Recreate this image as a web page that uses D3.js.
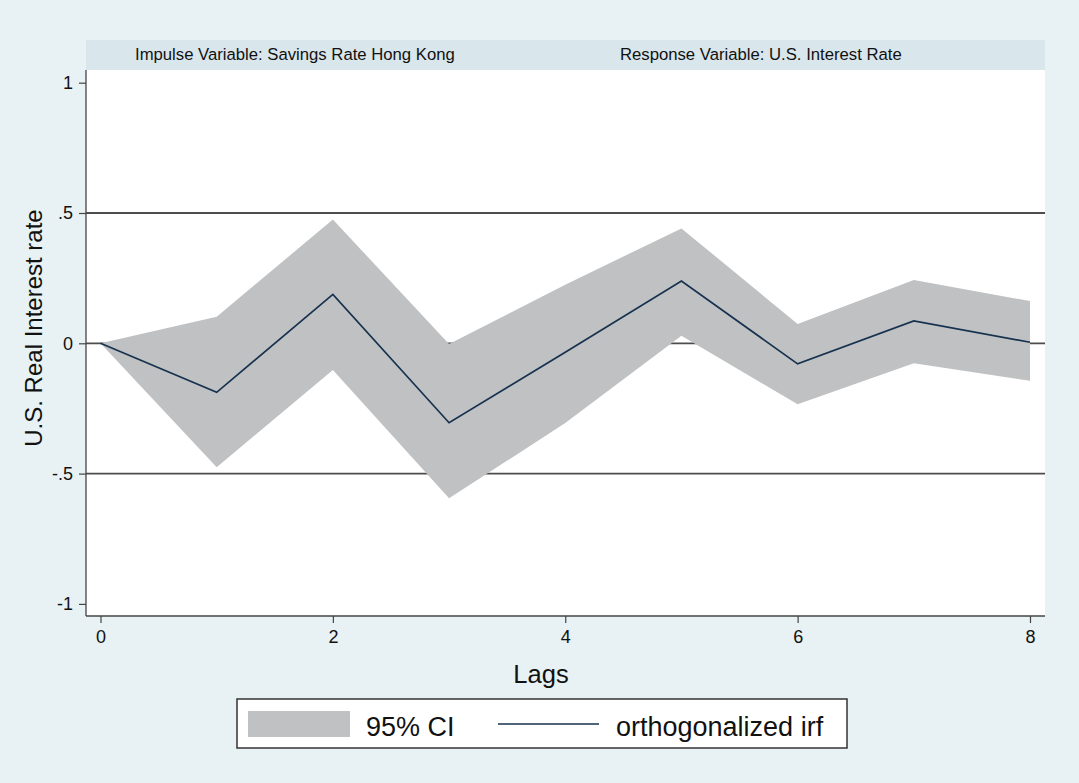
<!DOCTYPE html>
<head>
<script src="https://d3js.org/d3.v7.min.js"></script>
<style>
body { margin: 0; background: #e8f1f3; }
svg { display: block; font-family: "Liberation Sans", Arial, Helvetica, sans-serif; }
</style>
</head>
<body>
<svg></svg>
<script>
// lags and orthogonalized irf with its 95% band
var lags  = [0, 1, 2, 3, 4, 5, 6, 7, 8];
var irf   = [0, -0.188, 0.188, -0.305, -0.034, 0.239, -0.079, 0.086, 0.004];
var upper = [0, 0.102, 0.475, -0.003, 0.225, 0.441, 0.074, 0.243, 0.162];
var lower = [0, -0.476, -0.102, -0.595, -0.306, 0.029, -0.234, -0.077, -0.144];
var yTicks = [-1, -0.5, 0, 0.5, 1];
var xTicks = [0, 2, 4, 6, 8];

var width = 1079, height = 783;
var plotL = 86, plotR = 1045, plotT = 70, plotB = 616;

var svg = d3.select('svg').attr('width', width).attr('height', height);

svg.append('rect').attr('width', width).attr('height', height).attr('fill', '#e8f1f3');

var x = d3.scaleLinear().domain([0, 8]).range([100.5, 1030]);
var y = d3.scaleLinear().domain([-1, 1]).range([603.9, 82.7]);

// header strip
svg.append('rect')
    .attr('x', plotL).attr('y', 40).attr('width', plotR - plotL).attr('height', plotT - 40)
    .attr('fill', '#d9e6ec');
svg.append('text').attr('x', 135).attr('y', 60).attr('font-size', 16.7).attr('fill', '#111')
    .text('Impulse Variable: Savings Rate Hong Kong');
svg.append('text').attr('x', 620).attr('y', 60).attr('font-size', 16.7).attr('fill', '#111')
    .text('Response Variable: U.S. Interest Rate');

// plot region
svg.append('rect')
    .attr('x', plotL).attr('y', plotT).attr('width', plotR - plotL).attr('height', plotB - plotT)
    .attr('fill', '#fff');

// grid lines
svg.append('g').selectAll('line')
    .data([-0.5, 0, 0.5])
    .enter().append('line')
    .attr('x1', plotL).attr('x2', plotR)
    .attr('y1', function (d) { return y(d); })
    .attr('y2', function (d) { return y(d); })
    .attr('stroke', '#4d4d4d').attr('stroke-width', 1.8);

var rows = lags.map(function (l, i) {
    return { lag: l, irf: irf[i], lo: lower[i], hi: upper[i] };
});

var band = d3.area()
    .x(function (d) { return x(d.lag); })
    .y0(function (d) { return y(d.lo); })
    .y1(function (d) { return y(d.hi); });

svg.append('path').datum(rows).attr('d', band).attr('fill', '#c0c1c2');

var line = d3.line()
    .x(function (d) { return x(d.lag); })
    .y(function (d) { return y(d.irf); });

svg.append('path').datum(rows).attr('d', line)
    .attr('fill', 'none').attr('stroke', '#16324f').attr('stroke-width', 1.7);

// axes
var fmt = function (d) { return d === 0 ? '0' : String(d).replace('0.', '.'); };

var yAxis = svg.append('g').attr('transform', 'translate(' + plotL + ',0)')
    .call(d3.axisLeft(y).tickValues(yTicks).tickFormat(fmt).tickSize(7).tickPadding(6));
var xAxis = svg.append('g').attr('transform', 'translate(0,' + plotB + ')')
    .call(d3.axisBottom(x).tickValues(xTicks).tickFormat(d3.format('d')).tickSize(7).tickPadding(7));

[yAxis, xAxis].forEach(function (a) {
    a.select('.domain').remove();
    a.selectAll('line').attr('stroke', '#444').attr('stroke-width', 1.2);
    a.selectAll('text').style('font-size', '18px').attr('fill', '#111')
        .style('font-family', '"Liberation Sans", Arial, Helvetica, sans-serif');
});

svg.append('line').attr('x1', plotL).attr('x2', plotL).attr('y1', plotT).attr('y2', plotB)
    .attr('stroke', '#444').attr('stroke-width', 1.3);
svg.append('line').attr('x1', plotL).attr('x2', plotR).attr('y1', plotB).attr('y2', plotB)
    .attr('stroke', '#444').attr('stroke-width', 1.3);

// axis titles
svg.append('text').attr('x', 541).attr('y', 683).attr('text-anchor', 'middle')
    .attr('font-size', 25.5).attr('fill', '#111').text('Lags');
svg.append('text')
    .attr('transform', 'translate(42,328)rotate(-90)')
    .attr('text-anchor', 'middle').attr('font-size', 24).attr('fill', '#111')
    .text('U.S. Real Interest rate');

// legend
var lg = svg.append('g');
lg.append('rect').attr('x', 237).attr('y', 699).attr('width', 610).attr('height', 49)
    .attr('fill', '#fff').attr('stroke', '#333').attr('stroke-width', 1.5);
lg.append('rect').attr('x', 248).attr('y', 711).attr('width', 102).attr('height', 26)
    .attr('fill', '#c0c1c2');
lg.append('text').attr('x', 366).attr('y', 736).attr('font-size', 27).attr('fill', '#111')
    .text('95% CI');
lg.append('line').attr('x1', 498).attr('x2', 599).attr('y1', 724).attr('y2', 724)
    .attr('stroke', '#16324f').attr('stroke-width', 1.7);
lg.append('text').attr('x', 616).attr('y', 736).attr('font-size', 27).attr('fill', '#111')
    .text('orthogonalized irf');
</script>
</body>
